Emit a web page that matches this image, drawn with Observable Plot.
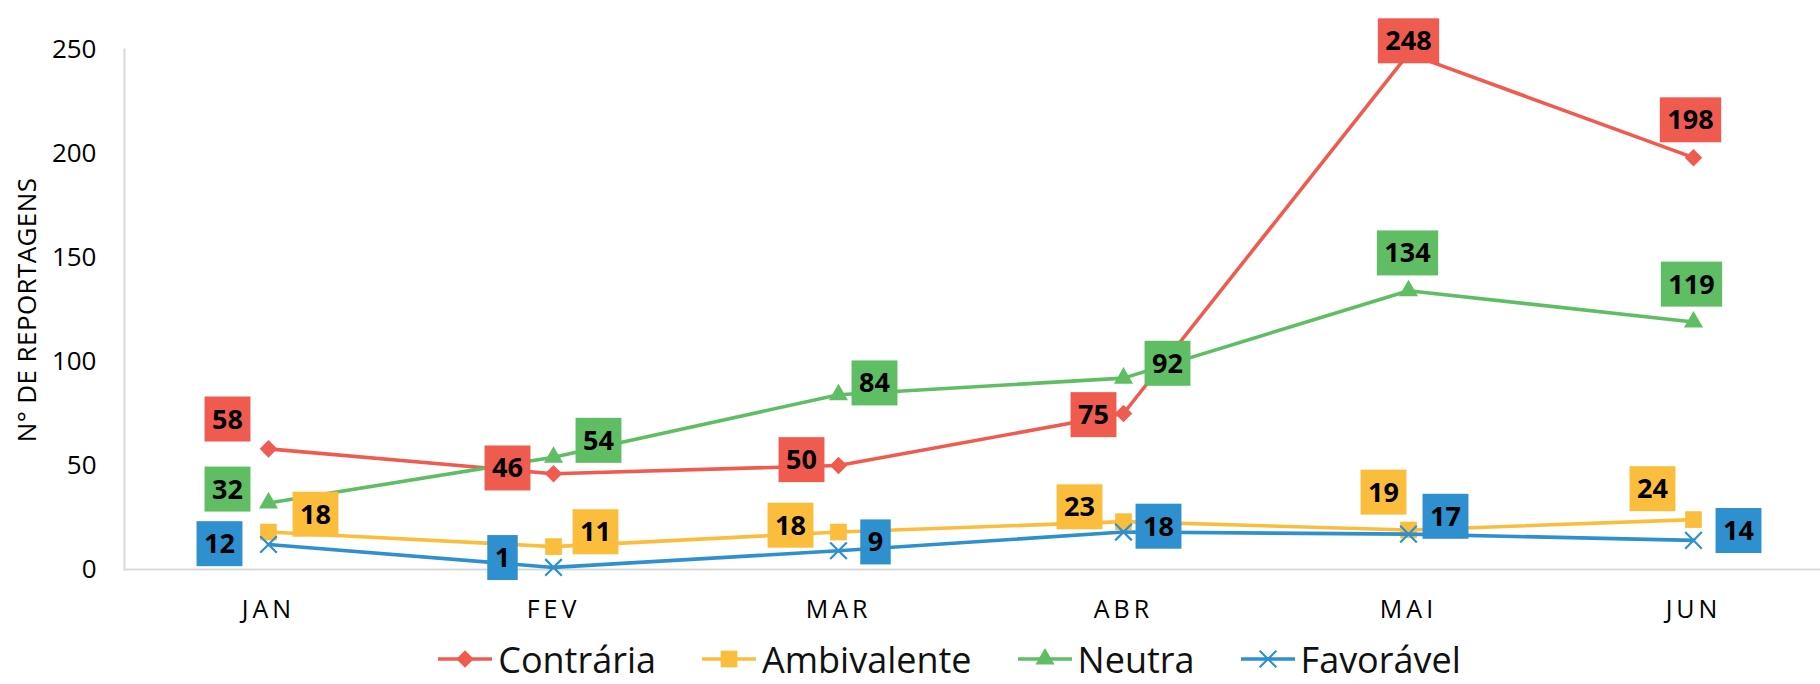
<!DOCTYPE html>
<html><head><meta charset="utf-8">
<script src="https://cdn.jsdelivr.net/npm/d3@7"></script>
<script src="https://cdn.jsdelivr.net/npm/@observablehq/plot@0.6"></script>
<style>
body{margin:0;background:#fff;font-family:"Open Sans",sans-serif;}
#chart{width:1820px;height:684px;position:relative;overflow:hidden;}
#chart svg{display:block;}
.legend{position:absolute;left:0;bottom:0;display:flex;justify-content:center;align-items:center;padding-left:79px;box-sizing:border-box;width:1820px;font-size:36px;line-height:normal;color:#111;font-family:"Open Sans",sans-serif;}
.legend .item{display:flex;align-items:center;margin:0 23px;}
.legend .item svg{margin-right:6px;margin-top:-2px;}
.ytitle{position:absolute;left:26px;top:310px;transform:translate(-50%,-50%) rotate(-90deg);white-space:nowrap;font-size:26px;letter-spacing:0.4px;color:#000;line-height:1;}
g[aria-label="x-axis tick label"] text{letter-spacing:4px;}
</style></head><body><div id="chart"></div>
<script>
const months = ["JAN","FEV","MAR","ABR","MAI","JUN"];
const seriesNames = ["Contrária","Ambivalente","Neutra","Favorável"];
const contraria   = [58, 46, 50, 75, 248, 198];
const ambivalente = [18, 11, 18, 23, 19, 24];
const neutra      = [32, 54, 84, 92, 134, 119];
const favoravel   = [12, 1, 9, 18, 17, 14];
const yTicks = [0, 50, 100, 150, 200, 250];
const yTitle = "N° DE REPORTAGENS";

// styling / layout
const colors = ["#F05B50", "#FBBD3C", "#5FBE64", "#2E90CE"];
const symbols = ["diamond2", "square", "triangle", "times"];
const radii = [7.9, 9.4, 7.1, 7.6];
const labelOffsets = {
  "Contrária":   [[-41,-29],[-46,-5],[-37,-5],[-30,2],[0,-12],[-3,-37]],
  "Ambivalente": [[47,-17],[42,-14],[-48,-6],[-44,-14],[-25,-37],[-41,-30]],
  "Neutra":      [[-41,-13],[45,-16],[36,-11],[44,-14],[-1,-37],[-2,-37]],
  "Favorável":   [[-49,0],[-51,-9],[37,-8],[35,-5],[37,-17],[45,-9]]
};

const values = [contraria, ambivalente, neutra, favoravel];
const rows = seriesNames.flatMap((s, i) => months.map((m, j) => ({series: s, month: m, value: values[i][j], idx: j, si: i})));

const marks = [
  Plot.ruleY([0], {stroke: "#d9d9d9", strokeWidth: 2}),
  Plot.frame({anchor: "left", stroke: "#d9d9d9", strokeWidth: 2}),
  Plot.axisY(yTicks, {tickSize: 0, tickPadding: 28, fontSize: 26, label: null}),
  Plot.axisX({tickSize: 0, tickPadding: 31, fontSize: 25, label: null})
];
seriesNames.forEach((s, i) => {
  const d = rows.filter(r => r.series === s);
  marks.push(Plot.line(d, {x: "month", y: "value", stroke: colors[i], strokeWidth: 3.6}));
  marks.push(Plot.dot(d, {x: "month", y: "value", symbol: symbols[i], r: radii[i],
    fill: i === 3 ? "none" : colors[i], stroke: i === 3 ? colors[i] : "none", strokeWidth: 2.2}));
});
rows.forEach(r => {
  const [dx, dy] = labelOffsets[r.series][r.idx];
  marks.push(Plot.text([r], {x: "month", y: "value", text: d => String(d.value), dx, dy,
    fontSize: 27, fontWeight: "bold", fill: "#000", ariaDescription: "data-label"}));
});

const plot = Plot.plot({
  width: 1820, height: 646,
  marginLeft: 124, marginRight: 0, marginTop: 49, marginBottom: 77,
  x: {type: "point", domain: months, range: [267, 1693], padding: 0},
  y: {domain: [0, 250]},
  style: {fontFamily: "Open Sans, sans-serif", color: "#000", background: "white", overflow: "visible"},
  marks
});
const chart = document.getElementById("chart");
chart.appendChild(plot);

// label boxes behind the texts
const labelGroups = plot.querySelectorAll('g[aria-description="data-label"]');
labelGroups.forEach((g, k) => {
  const r = rows[k];
  g.querySelectorAll("text").forEach(t => {
    const b = t.getBBox();
    const rect = document.createElementNS("http://www.w3.org/2000/svg", "rect");
    const w = b.width + 15, h = 45;
    const cy = b.y + b.height / 2 + 1;
    rect.setAttribute("x", b.x + b.width / 2 - w / 2);
    rect.setAttribute("y", cy - h / 2);
    rect.setAttribute("width", w);
    rect.setAttribute("height", h);
    rect.setAttribute("fill", colors[r.si]);
    const tr = t.getAttribute("transform");
    if (tr) rect.setAttribute("transform", tr);
    g.insertBefore(rect, t);
  });
});

// y title
const yt = document.createElement("div");
yt.className = "ytitle";
yt.textContent = yTitle;
chart.appendChild(yt);

// legend
const legend = document.createElement("div");
legend.className = "legend";
const symMap = {diamond2: d3.symbolDiamond2, square: d3.symbolSquare, triangle: d3.symbolTriangle, times: d3.symbolTimes};
seriesNames.forEach((s, i) => {
  const item = document.createElement("div");
  item.className = "item";
  const svg = d3.create("svg").attr("width", 54).attr("height", 24);
  svg.append("line").attr("x1", 0).attr("x2", 54).attr("y1", 12).attr("y2", 12)
    .attr("stroke", colors[i]).attr("stroke-width", 3.6);
  svg.append("path").attr("transform", "translate(27,12)")
    .attr("d", d3.symbol(symMap[symbols[i]], Math.PI * radii[i] * radii[i])())
    .attr("fill", i === 3 ? "none" : colors[i]).attr("stroke", i === 3 ? colors[i] : "none").attr("stroke-width", 2.2);
  item.appendChild(svg.node());
  const span = document.createElement("span");
  span.textContent = s;
  item.appendChild(span);
  legend.appendChild(item);
});
chart.appendChild(legend);
</script></body></html>
